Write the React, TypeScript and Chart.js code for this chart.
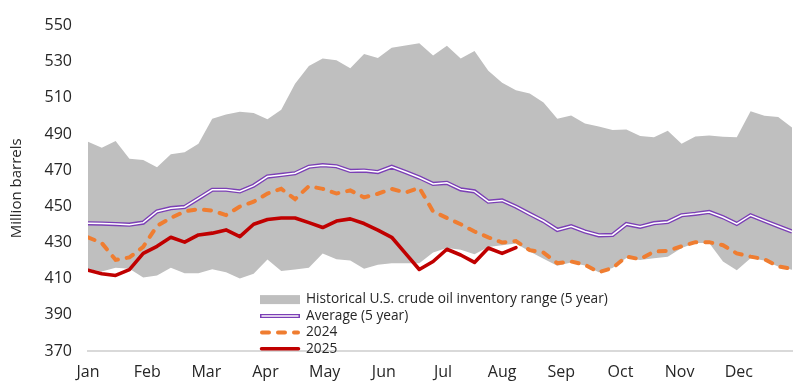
import React, { useEffect, useRef } from 'react';
import { Chart, registerables } from 'chart.js';

Chart.register(...registerables);

const MONTHS = ['Jan', 'Feb', 'Mar', 'Apr', 'May', 'Jun', 'Jul', 'Aug', 'Sep', 'Oct', 'Nov', 'Dec'];
const MONTH_STEP_WEEKS = 30 / 7;
const WEEKS = Array.from({ length: 52 }, (_, i) => i);

const RANGE_UPPER = [
  485.7, 482.4, 486.2, 476.4, 475.6, 471.6, 478.8, 480.0, 484.6, 498.5,
  500.8, 502.4, 501.6, 498.2, 503.5, 517.8, 527.7, 531.8, 530.9, 526.4,
  534.3, 532.1, 537.8, 539.0, 540.2, 533.4, 538.9, 531.8, 535.9, 525.0,
  518.4, 514.2, 512.5, 507.5, 498.5, 500.3, 495.8, 494.2, 492.3, 492.5,
  488.9, 488.2, 491.9, 484.6, 488.7, 489.2, 488.5, 488.2, 502.6, 500.1,
  499.4, 493.7,
];

const RANGE_LOWER = [
  415.4, 414.0, 416.0, 415.5, 410.6, 411.8, 416.0, 413.0, 413.0, 415.2,
  413.5, 410.1, 412.8, 420.6, 414.2, 415.1, 416.0, 424.0, 420.8, 420.1,
  415.5, 417.7, 418.6, 418.6, 418.5, 424.5, 427.0, 426.0, 423.5, 427.5,
  428.5, 429.5, 425.0, 421.0, 417.2, 419.0, 417.3, 413.6, 415.9, 421.5,
  420.3, 421.3, 422.2, 427.0, 429.8, 429.8, 419.5, 414.7, 421.3, 420.1,
  416.8, 415.0,
];

const AVERAGE_5Y = [
  440.6, 440.5, 440.2, 439.9, 441.0, 447.2, 449.0, 449.7, 454.4, 459.2,
  459.2, 458.3, 461.5, 466.5, 467.4, 468.3, 471.9, 472.8, 472.2, 469.6,
  469.8, 469.0, 471.9, 469.0, 466.0, 462.4, 463.0, 459.4, 458.3, 452.6,
  453.3, 449.9, 445.8, 441.9, 437.0, 439.0, 436.1, 434.0, 434.2, 440.2,
  438.7, 440.7, 441.4, 445.1, 445.9, 446.9, 444.0, 440.3, 445.1, 442.0,
  439.0, 436.1,
];

const Y2024 = [
  432.9, 429.7, 420.4, 421.8, 427.6, 439.2, 443.6, 447.2, 448.5, 447.6,
  445.2, 449.9, 452.6, 457.1, 459.7, 454.0, 461.2, 459.7, 457.1, 458.8,
  455.0, 457.0, 459.7, 457.6, 460.3, 447.2, 443.6, 440.1, 436.1, 432.9,
  430.0, 430.8, 425.8, 424.4, 418.6, 419.5, 417.7, 413.6, 415.9, 422.2,
  420.8, 425.0, 425.4, 427.9, 430.2, 430.2, 428.5, 424.0, 422.2, 420.8,
  416.8, 415.4,
];

const Y2025 = [
  414.7, 412.7, 411.8, 415.0, 424.0, 427.9, 432.9, 430.2, 434.2, 435.2,
  437.0, 433.3, 440.1, 442.7, 443.6, 443.6, 441.0, 438.3, 441.9, 443.1,
  440.5, 436.9, 432.9, 424.0, 415.1, 419.5, 426.3, 423.1, 419.0, 427.0,
  424.0, 427.2,
];

const Y_MIN = 370;
const Y_MAX = 550;
const Y_STEP = 20;

const LABEL_RANGE = 'Historical U.S. crude oil inventory range (5 year)';
const LABEL_AVG = 'Average (5 year)';
const LABEL_2024 = '2024';
const LABEL_2025 = '2025';
const Y_TITLE = 'Million barrels';

const FONT = '"Open Sans", "Noto Sans", sans-serif';
const TEXT = '#262626';
const GRAY = '#bfbfbf';
const PURPLE = '#7b3fb5';
const ORANGE = '#ef7d31';
const RED = '#c00000';
const DASH = [7, 9];

const pts = (arr: number[]) => arr.map((y, i) => ({ x: WEEKS[i], y }));

const insideLegend = {
  id: 'insideLegend',
  afterDatasetsDraw(chart: any) {
    const { ctx, chartArea } = chart;
    const x0 = chartArea.left + 172;
    const y0 = chartArea.top + 274;
    const rowH = 16.4;
    const symW = 40;
    const textX = x0 + symW + 6;
    ctx.save();
    ctx.font = `13.7px ${FONT}`;
    ctx.textBaseline = 'middle';
    ctx.textAlign = 'left';
    const rows = [
      { label: LABEL_RANGE, kind: 'box' },
      { label: LABEL_AVG, kind: 'double' },
      { label: LABEL_2024, kind: 'dash' },
      { label: LABEL_2025, kind: 'solid' },
    ];
    rows.forEach((r, k) => {
      const cy = y0 + k * rowH;
      ctx.setLineDash([]);
      if (r.kind === 'box') {
        ctx.fillStyle = GRAY;
        ctx.fillRect(x0, cy - 4.5, symW, 9);
      } else if (r.kind === 'double') {
        ctx.lineCap = 'butt';
        ctx.strokeStyle = PURPLE;
        ctx.lineWidth = 4.2;
        ctx.beginPath(); ctx.moveTo(x0, cy); ctx.lineTo(x0 + symW, cy); ctx.stroke();
        ctx.strokeStyle = '#ffffff';
        ctx.lineWidth = 1.5;
        ctx.beginPath(); ctx.moveTo(x0 + 1.5, cy); ctx.lineTo(x0 + symW - 1.5, cy); ctx.stroke();
      } else if (r.kind === 'dash') {
        ctx.strokeStyle = ORANGE;
        ctx.lineWidth = 4;
        ctx.lineCap = 'round';
        ctx.setLineDash(DASH);
        ctx.beginPath(); ctx.moveTo(x0 + 2, cy); ctx.lineTo(x0 + symW - 2, cy); ctx.stroke();
      } else {
        ctx.strokeStyle = RED;
        ctx.lineWidth = 3.5;
        ctx.lineCap = 'round';
        ctx.beginPath(); ctx.moveTo(x0 + 1.5, cy); ctx.lineTo(x0 + symW - 1.5, cy); ctx.stroke();
      }
      ctx.setLineDash([]);
      ctx.fillStyle = TEXT;
      ctx.fillText(r.label, textX, cy);
    });
    ctx.restore();
  },
};

export default function App() {
  const ref = useRef<HTMLCanvasElement | null>(null);

  useEffect(() => {
    document.body.style.margin = '0';
    const canvas = ref.current;
    if (!canvas) return;
    const chart = new Chart(canvas, {
      type: 'line',
      data: {
        datasets: [
          {
            label: LABEL_RANGE,
            data: pts(RANGE_UPPER),
            borderWidth: 0,
            borderColor: 'rgba(0,0,0,0)',
            backgroundColor: GRAY,
            pointRadius: 0,
            fill: '+1',
            order: 10,
          },
          {
            label: LABEL_RANGE + ' (low)',
            data: pts(RANGE_LOWER),
            borderWidth: 0,
            borderColor: 'rgba(0,0,0,0)',
            pointRadius: 0,
            fill: false,
            order: 10,
          },
          {
            label: LABEL_AVG,
            data: pts(AVERAGE_5Y),
            borderColor: PURPLE,
            borderWidth: 4.2,
            pointRadius: 0,
            fill: false,
            order: 4,
          },
          {
            label: LABEL_AVG + ' (inner)',
            data: pts(AVERAGE_5Y),
            borderColor: '#ffffff',
            borderWidth: 1.5,
            pointRadius: 0,
            fill: false,
            order: 3,
          },
          {
            label: LABEL_2024,
            data: pts(Y2024),
            borderColor: ORANGE,
            borderWidth: 4,
            borderDash: DASH,
            borderCapStyle: 'round',
            pointRadius: 0,
            fill: false,
            order: 2,
          },
          {
            label: LABEL_2025,
            data: pts(Y2025),
            borderColor: RED,
            borderWidth: 3.6,
            borderCapStyle: 'round',
            borderJoinStyle: 'round',
            pointRadius: 0,
            fill: false,
            order: 1,
          },
        ],
      },
      options: {
        animation: false,
        responsive: false,
        devicePixelRatio: 1,
        layout: { padding: { top: 15, right: 8, bottom: 0, left: 0 } },
        plugins: {
          legend: { display: false },
          tooltip: { enabled: false },
        },
        elements: { line: { tension: 0 } },
        scales: {
          x: {
            type: 'linear',
            min: 0,
            max: WEEKS[WEEKS.length - 1],
            grid: { display: false, drawTicks: false },
            border: { display: true, color: '#d9d9d9', width: 2 },
            ticks: {
              autoSkip: false,
              maxRotation: 0,
              padding: 12,
              color: TEXT,
              font: { family: FONT, size: 16 },
              callback: (_v: any, i: number) => MONTHS[i] ?? '',
            },
            afterBuildTicks: (s: any) => {
              s.ticks = MONTHS.map((_, k) => ({ value: k * MONTH_STEP_WEEKS }));
            },
            afterFit: (s: any) => {
              s.height = 37;
            },
          },
          y: {
            min: Y_MIN,
            max: Y_MAX,
            grid: { display: false, drawTicks: false },
            border: { display: false },
            ticks: {
              stepSize: Y_STEP,
              padding: 16,
              color: TEXT,
              font: { family: FONT, size: 16 },
            },
            title: {
              display: true,
              text: Y_TITLE,
              color: TEXT,
              font: { family: FONT, size: 15 },
              padding: { top: 8, bottom: 0 },
            },
            afterFit: (s: any) => {
              s.width = 88;
            },
          },
        },
      },
      plugins: [insideLegend],
    } as any);
    return () => chart.destroy();
  }, []);

  return (
    <div style={{ width: 800, height: 388 }}>
      <canvas ref={ref} width={800} height={388} style={{ display: 'block', width: 800, height: 388 }} />
    </div>
  );
}
